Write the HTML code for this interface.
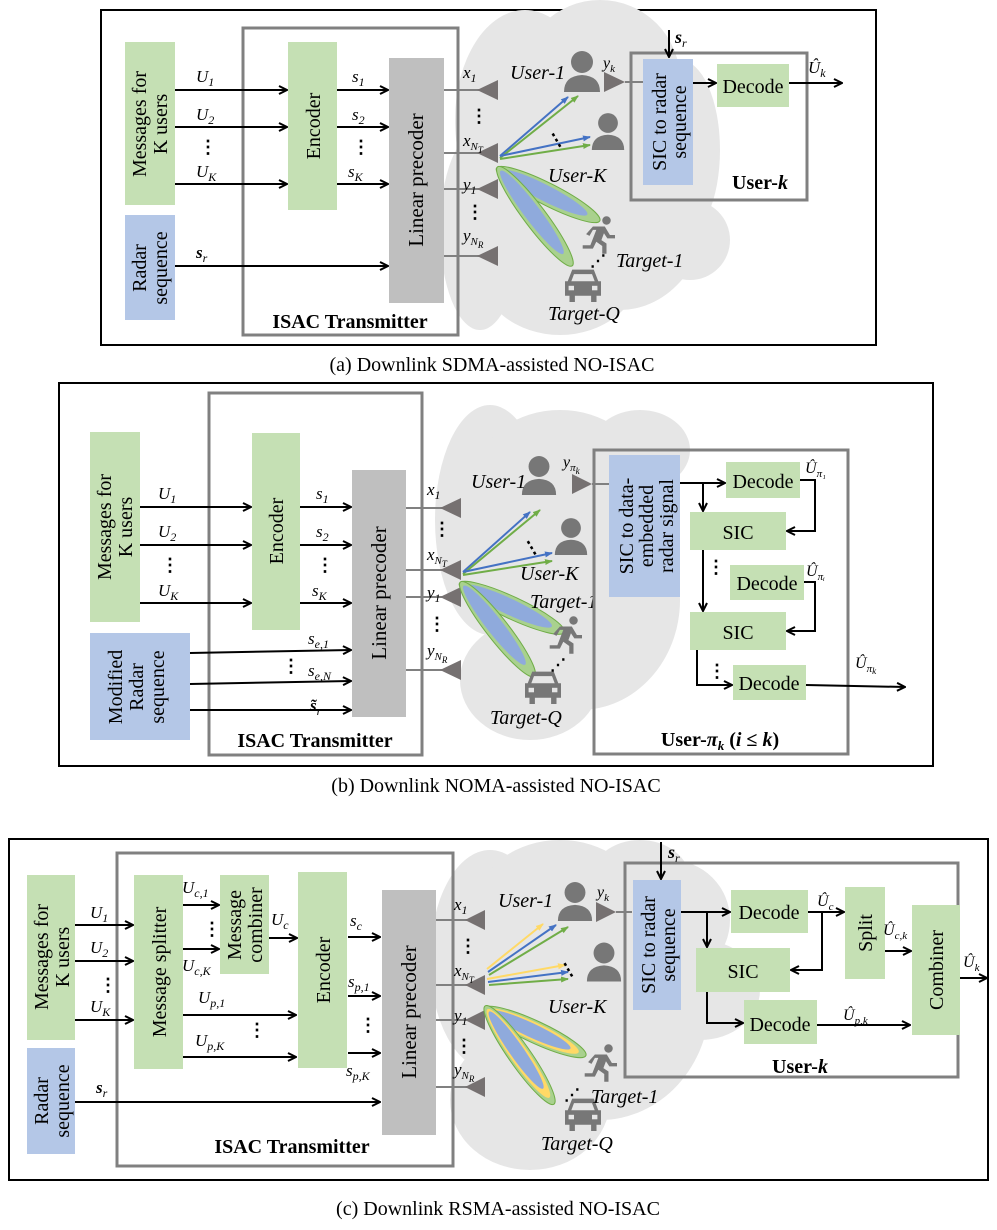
<!DOCTYPE html>
<html><head><meta charset="utf-8"><style>
html,body{margin:0;padding:0;background:#fff;}
svg{display:block;}
text{font-family:"Liberation Serif",serif;}
</style></head><body>
<svg width="997" height="1230" viewBox="0 0 997 1230" xmlns="http://www.w3.org/2000/svg">
<defs>
<marker id="ar" markerWidth="10" markerHeight="10" refX="9" refY="5" orient="auto" markerUnits="userSpaceOnUse">
<path d="M1,1 L9,5 L1,9" fill="none" stroke="#000" stroke-width="2"/></marker>
<marker id="ab" markerWidth="8" markerHeight="8" refX="7" refY="4" orient="auto" markerUnits="userSpaceOnUse"><path d="M0,1 L8,4 L0,7z" fill="#4472c4"/></marker>
<marker id="ag" markerWidth="8" markerHeight="8" refX="7" refY="4" orient="auto" markerUnits="userSpaceOnUse"><path d="M0,1 L8,4 L0,7z" fill="#70ad47"/></marker>
<marker id="ay" markerWidth="8" markerHeight="8" refX="7" refY="4" orient="auto" markerUnits="userSpaceOnUse"><path d="M0,1 L8,4 L0,7z" fill="#ffd966"/></marker>
<symbol id="person" viewBox="0 0 40 44" overflow="visible"><circle cx="20" cy="12" r="11" fill="#777"/><path d="M2,42 Q2,26 20,25 Q38,26 38,42 Z" fill="#777"/></symbol>
<symbol id="runner" viewBox="0 0 40 44" overflow="visible"><circle cx="30" cy="5" r="5" fill="#777"/><path d="M14,12 L28,12 L34,22 L40,22 L40,26 L31,26 L27,20 L24,28 L30,32 L30,44 L25,44 L25,35 L18,30 L14,38 L2,38 L2,34 L11,34 L18,16 L14,16 L10,23 L6,21 Z" fill="#777"/></symbol>
<symbol id="car" viewBox="0 0 40 40" overflow="visible"><path d="M8,4 L32,4 L37,17 L40,17 L40,33 L35,33 L35,40 L29,40 L29,33 L11,33 L11,40 L5,40 L5,33 L0,33 L0,17 L3,17 Z" fill="#777"/><path d="M10,9 L30,9 L33,17 L7,17 Z" fill="#e6e6e6"/><rect x="4" y="22" width="6" height="5" fill="#e6e6e6"/><rect x="30" y="22" width="6" height="5" fill="#e6e6e6"/></symbol>
</defs>

<!-- ============ PANEL A ============ -->
<rect x="101" y="10" width="775" height="335" fill="none" stroke="#000" stroke-width="2"/>
<g fill="#e6e6e6">
<ellipse cx="525" cy="120" rx="70" ry="110"/><ellipse cx="600" cy="80" rx="80" ry="80"/><ellipse cx="620" cy="200" rx="90" ry="110"/>
<ellipse cx="560" cy="270" rx="80" ry="65"/><ellipse cx="480" cy="230" rx="40" ry="100"/><ellipse cx="680" cy="150" rx="40" ry="90"/><ellipse cx="690" cy="240" rx="40" ry="40"/>
</g>
<rect x="243" y="28" width="215" height="307" fill="none" stroke="#808080" stroke-width="3"/>
<rect x="125" y="42" width="50" height="163" fill="#c5e0b4"/>
<text transform="translate(146,124) rotate(-90)" font-size="20" text-anchor="middle">Messages for</text>
<text transform="translate(167,124) rotate(-90)" font-size="20" text-anchor="middle">K users</text>
<rect x="125" y="215" width="50" height="105" fill="#b4c7e7"/>
<text transform="translate(146,268) rotate(-90)" font-size="20" text-anchor="middle">Radar</text>
<text transform="translate(167,268) rotate(-90)" font-size="20" text-anchor="middle">sequence</text>
<rect x="288" y="42" width="49" height="168" fill="#c5e0b4"/>
<text transform="translate(320,126) rotate(-90)" font-size="20" text-anchor="middle">Encoder</text>
<rect x="389" y="58" width="55" height="245" fill="#bfbfbf"/>
<text transform="translate(423,180) rotate(-90)" font-size="21" text-anchor="middle">Linear precoder</text>
<g stroke="#000" stroke-width="2" marker-end="url(#ar)">
<line x1="175" y1="90" x2="287" y2="90"/><line x1="175" y1="127" x2="287" y2="127"/><line x1="175" y1="184" x2="287" y2="184"/>
<line x1="337" y1="90" x2="388" y2="90"/><line x1="337" y1="127" x2="388" y2="127"/><line x1="337" y1="184" x2="388" y2="184"/>
<line x1="175" y1="266" x2="388" y2="266"/>
</g>
<g font-size="17" font-style="italic">
<text x="196" y="82">U<tspan font-size="12" dy="4">1</tspan></text>
<text x="196" y="120">U<tspan font-size="12" dy="4">2</tspan></text>
<text x="196" y="177">U<tspan font-size="12" dy="4">K</tspan></text>
<text x="352" y="82">s<tspan font-size="12" dy="4">1</tspan></text>
<text x="352" y="120">s<tspan font-size="12" dy="4">2</tspan></text>
<text x="348" y="177">s<tspan font-size="12" dy="4">K</tspan></text>
<text x="196" y="258" font-weight="bold">s<tspan font-size="12" dy="4" font-weight="normal">r</tspan></text>
</g>
<text x="199" y="153" font-size="18" font-weight="bold">⋮</text>
<text x="352" y="153" font-size="18" font-weight="bold">⋮</text>
<text x="350" y="328" font-size="20" font-weight="bold" text-anchor="middle">ISAC Transmitter</text>
<!-- antennas -->
<g stroke="#808080" stroke-width="2"><line x1="444" y1="90" x2="480" y2="90"/><line x1="444" y1="153" x2="480" y2="153"/><line x1="444" y1="189" x2="480" y2="189"/><line x1="444" y1="256" x2="480" y2="256"/></g>
<g fill="#767171"><path d="M477,90 L498,80 L498,100Z"/><path d="M477,153 L498,143 L498,163Z"/><path d="M477,189 L498,179 L498,199Z"/><path d="M477,256 L498,246 L498,266Z"/></g>
<g font-size="17" font-style="italic">
<text x="463" y="78">x<tspan font-size="12" dy="4">1</tspan></text>
<text x="463" y="146">x<tspan font-size="11" dy="4">N<tspan font-size="9" dy="3">T</tspan></tspan></text>
<text x="463" y="190">y<tspan font-size="12" dy="4">1</tspan></text>
<text x="463" y="241">y<tspan font-size="11" dy="4">N<tspan font-size="9" dy="3">R</tspan></tspan></text>
</g>
<text x="470" y="122" font-size="18" font-weight="bold">⋮</text>
<text x="466" y="218" font-size="18" font-weight="bold">⋮</text>
<!-- beams -->
<g stroke-width="2"><line x1="500" y1="156" x2="568" y2="97" stroke="#4472c4" marker-end="url(#ab)"/><line x1="500" y1="158" x2="578" y2="96" stroke="#70ad47" marker-end="url(#ag)"/>
<line x1="500" y1="156" x2="590" y2="137" stroke="#4472c4" marker-end="url(#ab)"/><line x1="500" y1="159" x2="590" y2="145" stroke="#70ad47" marker-end="url(#ag)"/></g>
<g transform="translate(500,170)">
<ellipse cx="54" cy="0" rx="58" ry="11" transform="rotate(27)" fill="#a9d18e" stroke="#70ad47"/>
<ellipse cx="50" cy="0" rx="48" ry="8" transform="rotate(27)" fill="#8faadc"/>
<ellipse cx="58" cy="0" rx="62" ry="11" transform="rotate(53)" fill="#a9d18e" stroke="#70ad47"/>
<ellipse cx="53" cy="0" rx="52" ry="8" transform="rotate(53)" fill="#8faadc"/>
</g>
<use href="#person" x="562" y="50" width="40" height="44"/>
<use href="#person" x="590" y="110" width="36" height="44"/>
<text x="543" y="132" font-size="18" font-weight="bold" transform="rotate(-30 580 125)">⋮</text>
<text x="510" y="79" font-size="20" font-style="italic">User-1</text>
<text x="548" y="182" font-size="20" font-style="italic">User-K</text>
<use href="#runner" x="581" y="215" width="34" height="40"/>
<use href="#car" x="565" y="266" width="36" height="36"/>
<text x="590" y="266" font-size="16" font-weight="bold">⋰</text>
<text x="616" y="267" font-size="20" font-style="italic">Target-1</text>
<text x="548" y="320" font-size="20" font-style="italic">Target-Q</text>
<!-- user-k -->
<rect x="631" y="53" width="176" height="147" fill="none" stroke="#808080" stroke-width="3"/>
<path d="M625,82 L604,72 L604,92Z" fill="#767171"/><line x1="625" y1="82" x2="643" y2="82" stroke="#808080" stroke-width="2"/>
<text x="603" y="68" font-size="16" font-style="italic">y<tspan font-size="11" dy="4">k</tspan></text>
<rect x="643" y="59" width="50" height="126" fill="#b4c7e7"/>
<text transform="translate(666,122) rotate(-90)" font-size="20" text-anchor="middle">SIC to radar</text>
<text transform="translate(686,122) rotate(-90)" font-size="20" text-anchor="middle">sequence</text>
<rect x="717" y="64" width="72" height="43" fill="#c5e0b4"/>
<text x="753" y="93" font-size="20" text-anchor="middle">Decode</text>
<g stroke="#000" stroke-width="2" marker-end="url(#ar)"><line x1="693" y1="83" x2="716" y2="83"/><line x1="669" y1="30" x2="669" y2="57"/><line x1="789" y1="83" x2="842" y2="83"/></g>
<text x="675" y="43" font-size="18" font-style="italic" font-weight="bold">s<tspan font-size="12" dy="4" font-weight="normal">r</tspan></text>
<text x="808" y="73" font-size="17" font-style="italic">Û<tspan font-size="12" dy="4">k</tspan></text>
<text x="760" y="189" font-size="20" font-weight="bold" text-anchor="middle">User-<tspan font-style="italic">k</tspan></text>
<text x="492" y="371" font-size="20" text-anchor="middle">(a) Downlink SDMA-assisted NO-ISAC</text>

<!-- ============ PANEL B ============ -->
<rect x="59" y="383" width="874" height="383" fill="none" stroke="#000" stroke-width="2"/>
<g fill="#e6e6e6">
<ellipse cx="490" cy="520" rx="55" ry="115"/><ellipse cx="560" cy="470" rx="80" ry="60"/><ellipse cx="580" cy="600" rx="100" ry="110"/>
<ellipse cx="530" cy="680" rx="70" ry="60"/><ellipse cx="640" cy="450" rx="50" ry="40"/>
</g>
<rect x="209" y="393" width="213" height="362" fill="none" stroke="#808080" stroke-width="3"/>
<rect x="90" y="432" width="50" height="190" fill="#c5e0b4"/>
<text transform="translate(111,527) rotate(-90)" font-size="20" text-anchor="middle">Messages for</text>
<text transform="translate(132,527) rotate(-90)" font-size="20" text-anchor="middle">K users</text>
<rect x="90" y="633" width="100" height="107" fill="#b4c7e7"/>
<text transform="translate(122,687) rotate(-90)" font-size="20" text-anchor="middle">Modified</text>
<text transform="translate(143,687) rotate(-90)" font-size="20" text-anchor="middle">Radar</text>
<text transform="translate(164,687) rotate(-90)" font-size="20" text-anchor="middle">sequence</text>
<rect x="252" y="433" width="48" height="197" fill="#c5e0b4"/>
<text transform="translate(283,531) rotate(-90)" font-size="20" text-anchor="middle">Encoder</text>
<rect x="352" y="470" width="54" height="247" fill="#bfbfbf"/>
<text transform="translate(386,593) rotate(-90)" font-size="21" text-anchor="middle">Linear precoder</text>
<g stroke="#000" stroke-width="2" marker-end="url(#ar)">
<line x1="140" y1="507" x2="251" y2="507"/><line x1="140" y1="545" x2="251" y2="545"/><line x1="140" y1="603" x2="251" y2="603"/>
<line x1="300" y1="507" x2="351" y2="507"/><line x1="300" y1="545" x2="351" y2="545"/><line x1="300" y1="603" x2="351" y2="603"/>
<line x1="190" y1="653" x2="351" y2="650"/><line x1="190" y1="684" x2="351" y2="681"/><line x1="190" y1="710" x2="351" y2="710"/>
</g>
<g font-size="17" font-style="italic">
<text x="158" y="499">U<tspan font-size="12" dy="4">1</tspan></text>
<text x="158" y="537">U<tspan font-size="12" dy="4">2</tspan></text>
<text x="158" y="596">U<tspan font-size="12" dy="4">K</tspan></text>
<text x="316" y="499">s<tspan font-size="12" dy="4">1</tspan></text>
<text x="316" y="537">s<tspan font-size="12" dy="4">2</tspan></text>
<text x="312" y="596">s<tspan font-size="12" dy="4">K</tspan></text>
<text x="308" y="644">s<tspan font-size="12" dy="4">e,1</tspan></text>
<text x="308" y="676">s<tspan font-size="12" dy="4">e,N</tspan></text>
<text x="310" y="711" font-weight="bold">s̃<tspan font-size="12" dy="4" font-weight="normal">r</tspan></text>
</g>
<text x="161" y="571" font-size="18" font-weight="bold">⋮</text>
<text x="316" y="571" font-size="18" font-weight="bold">⋮</text>
<text x="282" y="672" font-size="18" font-weight="bold">⋮</text>
<text x="315" y="747" font-size="20" font-weight="bold" text-anchor="middle">ISAC Transmitter</text>
<g stroke="#808080" stroke-width="2"><line x1="406" y1="508" x2="443" y2="508"/><line x1="406" y1="570" x2="443" y2="570"/><line x1="406" y1="597" x2="443" y2="597"/><line x1="406" y1="670" x2="443" y2="670"/></g>
<g fill="#767171"><path d="M440,508 L461,498 L461,518Z"/><path d="M440,570 L461,560 L461,580Z"/><path d="M440,597 L461,587 L461,607Z"/><path d="M440,670 L461,660 L461,680Z"/></g>
<g font-size="17" font-style="italic">
<text x="427" y="495">x<tspan font-size="12" dy="4">1</tspan></text>
<text x="427" y="560">x<tspan font-size="11" dy="4">N<tspan font-size="9" dy="3">T</tspan></tspan></text>
<text x="427" y="598">y<tspan font-size="12" dy="4">1</tspan></text>
<text x="427" y="656">y<tspan font-size="11" dy="4">N<tspan font-size="9" dy="3">R</tspan></tspan></text>
</g>
<text x="433" y="535" font-size="18" font-weight="bold">⋮</text>
<text x="428" y="630" font-size="18" font-weight="bold">⋮</text>
<g stroke-width="2"><line x1="463" y1="572" x2="530" y2="512" stroke="#4472c4" marker-end="url(#ab)"/><line x1="463" y1="574" x2="540" y2="510" stroke="#70ad47" marker-end="url(#ag)"/>
<line x1="463" y1="572" x2="552" y2="553" stroke="#4472c4" marker-end="url(#ab)"/><line x1="463" y1="575" x2="552" y2="561" stroke="#70ad47" marker-end="url(#ag)"/></g>
<g transform="translate(463,585)">
<ellipse cx="54" cy="0" rx="58" ry="11" transform="rotate(25)" fill="#a9d18e" stroke="#70ad47"/>
<ellipse cx="50" cy="0" rx="48" ry="8" transform="rotate(25)" fill="#8faadc"/>
<ellipse cx="56" cy="0" rx="60" ry="11" transform="rotate(52)" fill="#a9d18e" stroke="#70ad47"/>
<ellipse cx="51" cy="0" rx="50" ry="8" transform="rotate(52)" fill="#8faadc"/>
</g>
<use href="#person" x="520" y="455" width="38" height="42"/>
<use href="#person" x="553" y="515" width="36" height="44"/>
<text x="518" y="545" font-size="18" font-weight="bold" transform="rotate(-30 545 535)">⋮</text>
<text x="471" y="488" font-size="20" font-style="italic">User-1</text>
<text x="520" y="580" font-size="20" font-style="italic">User-K</text>
<text x="530" y="608" font-size="20" font-style="italic">Target-1</text>
<use href="#runner" x="548" y="615" width="34" height="40"/>
<use href="#car" x="525" y="668" width="36" height="36"/>
<text x="550" y="670" font-size="16" font-weight="bold">⋰</text>
<text x="490" y="724" font-size="20" font-style="italic">Target-Q</text>
<!-- user pi_k -->
<rect x="594" y="450" width="254" height="304" fill="none" stroke="#808080" stroke-width="3"/>
<path d="M592,484 L572,474 L572,494Z" fill="#767171"/><line x1="592" y1="484" x2="609" y2="484" stroke="#808080" stroke-width="2"/>
<text x="563" y="467" font-size="16" font-style="italic">y<tspan font-size="11" dy="4">π<tspan font-size="9" dy="3">k</tspan></tspan></text>
<rect x="609" y="455" width="71" height="142" fill="#b4c7e7"/>
<text transform="translate(633,526) rotate(-90)" font-size="20" text-anchor="middle">SIC to data-</text>
<text transform="translate(653,526) rotate(-90)" font-size="20" text-anchor="middle">embedded</text>
<text transform="translate(673,526) rotate(-90)" font-size="20" text-anchor="middle">radar signal</text>
<g fill="#c5e0b4">
<rect x="726" y="462" width="74" height="36"/><rect x="690" y="512" width="96" height="38"/><rect x="730" y="565" width="74" height="35"/><rect x="690" y="612" width="96" height="38"/><rect x="733" y="665" width="73" height="35"/>
</g>
<g font-size="20" text-anchor="middle">
<text x="763" y="488">Decode</text><text x="738" y="539">SIC</text><text x="767" y="590">Decode</text><text x="738" y="639">SIC</text><text x="769" y="690">Decode</text>
</g>
<g stroke="#000" stroke-width="2" fill="none" marker-end="url(#ar)">
<line x1="680" y1="483" x2="725" y2="483"/>
<line x1="703" y1="483" x2="703" y2="511"/>
<polyline points="800,480 815,480 815,531 787,531"/>
<line x1="703" y1="550" x2="703" y2="611"/>
<polyline points="804,582 815,582 815,631 787,631"/>
<polyline points="697,650 697,685 732,685"/>
<line x1="806" y1="685" x2="905" y2="687"/>
</g>
<rect x="701" y="556" width="8" height="40" fill="#fff" opacity="0"/>
<text x="707" y="573" font-size="18" font-weight="bold">⋮</text>
<text x="708" y="677" font-size="18" font-weight="bold">⋮</text>
<g font-size="16" font-style="italic">
<text x="805" y="473">Û<tspan font-size="11" dy="4">π₁</tspan></text>
<text x="806" y="576">Û<tspan font-size="11" dy="4">πᵢ</tspan></text>
<text x="855" y="668">Û<tspan font-size="11" dy="4">π<tspan font-size="9" dy="2">k</tspan></tspan></text>
</g>
<text x="720" y="746" font-size="20" font-weight="bold" text-anchor="middle">User-<tspan font-style="italic">π<tspan font-size="13" dy="4">k</tspan></tspan><tspan dy="-4"> (</tspan><tspan font-style="italic">i</tspan> ≤ <tspan font-style="italic">k</tspan>)</text>
<text x="496" y="792" font-size="20" text-anchor="middle">(b) Downlink NOMA-assisted NO-ISAC</text>

<!-- ============ PANEL C ============ -->
<rect x="9" y="839" width="979" height="341" fill="none" stroke="#000" stroke-width="2"/>
<g fill="#e6e6e6">
<ellipse cx="490" cy="960" rx="60" ry="110"/><ellipse cx="560" cy="900" rx="80" ry="60"/><ellipse cx="600" cy="1000" rx="110" ry="120"/>
<ellipse cx="530" cy="1100" rx="80" ry="70"/><ellipse cx="670" cy="920" rx="60" ry="60"/><ellipse cx="700" cy="990" rx="60" ry="50"/><ellipse cx="640" cy="880" rx="50" ry="40"/>
</g>
<rect x="117" y="853" width="336" height="313" fill="none" stroke="#808080" stroke-width="3"/>
<rect x="27" y="875" width="48" height="165" fill="#c5e0b4"/>
<text transform="translate(48,957) rotate(-90)" font-size="20" text-anchor="middle">Messages for</text>
<text transform="translate(69,957) rotate(-90)" font-size="20" text-anchor="middle">K users</text>
<rect x="27" y="1048" width="48" height="106" fill="#b4c7e7"/>
<text transform="translate(48,1101) rotate(-90)" font-size="20" text-anchor="middle">Radar</text>
<text transform="translate(69,1101) rotate(-90)" font-size="20" text-anchor="middle">sequence</text>
<rect x="134" y="875" width="49" height="194" fill="#c5e0b4"/>
<text transform="translate(166,972) rotate(-90)" font-size="20" text-anchor="middle">Message splitter</text>
<rect x="220" y="875" width="49" height="99" fill="#c5e0b4"/>
<text transform="translate(241,925) rotate(-90)" font-size="20" text-anchor="middle">Message</text>
<text transform="translate(262,925) rotate(-90)" font-size="20" text-anchor="middle">combiner</text>
<rect x="298" y="872" width="49" height="196" fill="#c5e0b4"/>
<text transform="translate(330,970) rotate(-90)" font-size="20" text-anchor="middle">Encoder</text>
<rect x="382" y="890" width="54" height="245" fill="#bfbfbf"/>
<text transform="translate(416,1012) rotate(-90)" font-size="21" text-anchor="middle">Linear precoder</text>
<g stroke="#000" stroke-width="2" marker-end="url(#ar)">
<line x1="75" y1="925" x2="133" y2="925"/><line x1="75" y1="961" x2="133" y2="961"/><line x1="75" y1="1020" x2="133" y2="1020"/>
<line x1="183" y1="905" x2="219" y2="905"/><line x1="183" y1="949" x2="219" y2="949"/>
<line x1="269" y1="938" x2="297" y2="938"/>
<line x1="183" y1="1015" x2="296" y2="1015"/><line x1="183" y1="1057" x2="296" y2="1057"/>
<line x1="348" y1="937" x2="380" y2="937"/><line x1="348" y1="996" x2="380" y2="996"/><line x1="348" y1="1053" x2="380" y2="1053"/>
<line x1="75" y1="1102" x2="380" y2="1102"/>
</g>
<g font-size="17" font-style="italic">
<text x="90" y="918">U<tspan font-size="12" dy="4">1</tspan></text>
<text x="90" y="953">U<tspan font-size="12" dy="4">2</tspan></text>
<text x="90" y="1012">U<tspan font-size="12" dy="4">K</tspan></text>
<text x="182" y="893">U<tspan font-size="12" dy="4">c,1</tspan></text>
<text x="182" y="971">U<tspan font-size="12" dy="4">c,K</tspan></text>
<text x="271" y="925">U<tspan font-size="12" dy="4">c</tspan></text>
<text x="198" y="1003">U<tspan font-size="12" dy="4">p,1</tspan></text>
<text x="195" y="1046">U<tspan font-size="12" dy="4">p,K</tspan></text>
<text x="350" y="926">s<tspan font-size="12" dy="4">c</tspan></text>
<text x="348" y="987">s<tspan font-size="12" dy="4">p,1</tspan></text>
<text x="346" y="1076">s<tspan font-size="12" dy="4">p,K</tspan></text>
<text x="96" y="1093" font-weight="bold">s<tspan font-size="12" dy="4" font-weight="normal">r</tspan></text>
</g>
<text x="99" y="991" font-size="18" font-weight="bold">⋮</text>
<text x="203" y="935" font-size="18" font-weight="bold">⋮</text>
<text x="248" y="1036" font-size="18" font-weight="bold">⋮</text>
<text x="359" y="1031" font-size="18" font-weight="bold">⋮</text>
<text x="292" y="1153" font-size="20" font-weight="bold" text-anchor="middle">ISAC Transmitter</text>
<g stroke="#808080" stroke-width="2"><line x1="436" y1="920" x2="468" y2="920"/><line x1="436" y1="985" x2="468" y2="985"/><line x1="436" y1="1020" x2="468" y2="1020"/><line x1="436" y1="1087" x2="468" y2="1087"/></g>
<g fill="#767171"><path d="M465,920 L485,910 L485,930Z"/><path d="M465,985 L485,975 L485,995Z"/><path d="M465,1020 L485,1010 L485,1030Z"/><path d="M465,1087 L485,1077 L485,1097Z"/></g>
<g font-size="17" font-style="italic">
<text x="454" y="910">x<tspan font-size="12" dy="4">1</tspan></text>
<text x="454" y="976">x<tspan font-size="11" dy="4">N<tspan font-size="9" dy="3">T</tspan></tspan></text>
<text x="454" y="1021">y<tspan font-size="12" dy="4">1</tspan></text>
<text x="454" y="1075">y<tspan font-size="11" dy="4">N<tspan font-size="9" dy="3">R</tspan></tspan></text>
</g>
<text x="459" y="952" font-size="18" font-weight="bold">⋮</text>
<text x="455" y="1052" font-size="18" font-weight="bold">⋮</text>
<g stroke-width="2">
<line x1="487" y1="969" x2="543" y2="924" stroke="#ffd966" marker-end="url(#ay)"/>
<line x1="488" y1="972" x2="556" y2="925" stroke="#4472c4" marker-end="url(#ab)"/>
<line x1="489" y1="975" x2="568" y2="927" stroke="#70ad47" marker-end="url(#ag)"/>
<line x1="487" y1="979" x2="565" y2="965" stroke="#ffd966" marker-end="url(#ay)"/>
<line x1="488" y1="982" x2="568" y2="972" stroke="#4472c4" marker-end="url(#ab)"/>
<line x1="489" y1="985" x2="568" y2="979" stroke="#70ad47" marker-end="url(#ag)"/>
</g>
<g transform="translate(488,1010)">
<ellipse cx="52" cy="0" rx="56" ry="11" transform="rotate(25)" fill="#a9d18e" stroke="#70ad47"/>
<ellipse cx="50" cy="0" rx="50" ry="9" transform="rotate(25)" fill="#ffd966"/>
<ellipse cx="47" cy="0" rx="44" ry="7" transform="rotate(25)" fill="#8faadc"/>
<ellipse cx="55" cy="0" rx="60" ry="11" transform="rotate(55)" fill="#a9d18e" stroke="#70ad47"/>
<ellipse cx="53" cy="0" rx="54" ry="9" transform="rotate(55)" fill="#ffd966"/>
<ellipse cx="49" cy="0" rx="47" ry="7" transform="rotate(55)" fill="#8faadc"/>
</g>
<use href="#person" x="556" y="880" width="38" height="44"/>
<use href="#person" x="585" y="940" width="38" height="45"/>
<text x="555" y="968" font-size="18" font-weight="bold" transform="rotate(-30 580 958)">⋮</text>
<text x="498" y="907" font-size="20" font-style="italic">User-1</text>
<text x="548" y="1013" font-size="20" font-style="italic">User-K</text>
<use href="#runner" x="583" y="1043" width="34" height="40"/>
<use href="#car" x="565" y="1095" width="36" height="36"/>
<text x="564" y="1100" font-size="16" font-weight="bold">⋰</text>
<text x="591" y="1103" font-size="20" font-style="italic">Target-1</text>
<text x="541" y="1150" font-size="20" font-style="italic">Target-Q</text>
<!-- user-k c -->
<rect x="625" y="863" width="333" height="214" fill="none" stroke="#808080" stroke-width="3"/>
<path d="M616,912 L596,902 L596,922Z" fill="#767171"/><line x1="616" y1="912" x2="632" y2="912" stroke="#808080" stroke-width="2"/>
<text x="597" y="897" font-size="16" font-style="italic">y<tspan font-size="11" dy="4">k</tspan></text>
<rect x="633" y="880" width="48" height="130" fill="#b4c7e7"/>
<text transform="translate(655,945) rotate(-90)" font-size="20" text-anchor="middle">SIC to radar</text>
<text transform="translate(675,945) rotate(-90)" font-size="20" text-anchor="middle">sequence</text>
<g fill="#c5e0b4">
<rect x="731" y="890" width="77" height="43"/><rect x="696" y="948" width="94" height="44"/><rect x="744" y="1000" width="73" height="44"/><rect x="845" y="887" width="40" height="92"/><rect x="912" y="905" width="48" height="130"/>
</g>
<g font-size="20" text-anchor="middle">
<text x="769" y="919">Decode</text><text x="743" y="978">SIC</text><text x="780" y="1031">Decode</text>
</g>
<text transform="translate(872,933) rotate(-90)" font-size="20" text-anchor="middle">Split</text>
<text transform="translate(943,970) rotate(-90)" font-size="20" text-anchor="middle">Combiner</text>
<g stroke="#000" stroke-width="2" fill="none" marker-end="url(#ar)">
<line x1="681" y1="912" x2="730" y2="912"/>
<line x1="707" y1="912" x2="707" y2="947"/>
<line x1="808" y1="912" x2="844" y2="912"/>
<polyline points="822,912 822,970 791,970"/>
<polyline points="707,992 707,1023 743,1023"/>
<line x1="817" y1="1025" x2="910" y2="1025"/>
<line x1="885" y1="951" x2="911" y2="951"/>
<line x1="960" y1="978" x2="987" y2="978"/>
<line x1="661" y1="842" x2="661" y2="879"/>
</g>
<g font-size="16" font-style="italic">
<text x="817" y="906">Û<tspan font-size="11" dy="4">c</tspan></text>
<text x="883" y="935">Û<tspan font-size="11" dy="4">c,k</tspan></text>
<text x="843" y="1020">Û<tspan font-size="11" dy="4">p,k</tspan></text>
<text x="963" y="967">Û<tspan font-size="11" dy="4">k</tspan></text>
</g>
<text x="668" y="858" font-size="18" font-style="italic" font-weight="bold">s<tspan font-size="12" dy="4" font-weight="normal">r</tspan></text>
<text x="800" y="1073" font-size="20" font-weight="bold" text-anchor="middle">User-<tspan font-style="italic">k</tspan></text>
<text x="498" y="1215" font-size="20" text-anchor="middle">(c) Downlink RSMA-assisted NO-ISAC</text>
</svg>
</body></html>
